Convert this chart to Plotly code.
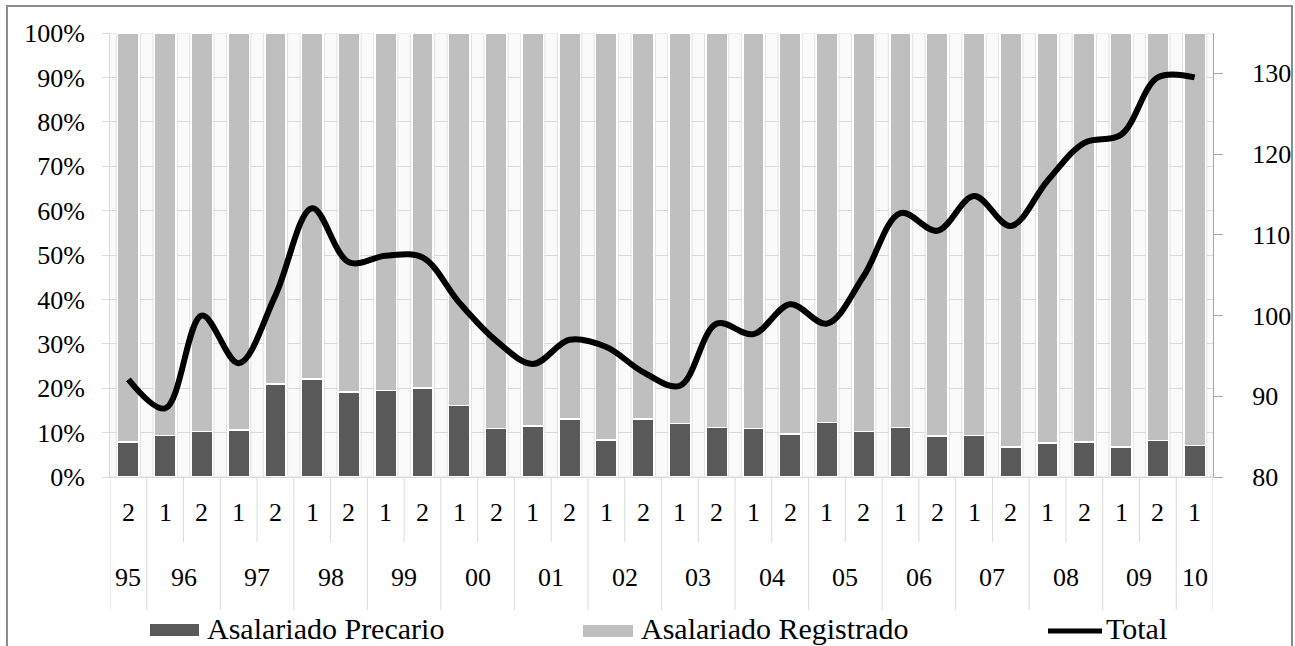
import plotly.graph_objects as go

# ---------------- data ----------------
semesters = ["2", "1", "2", "1", "2", "1", "2", "1", "2", "1",
             "2", "1", "2", "1", "2", "1", "2", "1", "2", "1",
             "2", "1", "2", "1", "2", "1", "2", "1", "2", "1"]
bar_years = ["95", "96", "96", "97", "97", "98", "98", "99", "99", "00",
             "00", "01", "01", "02", "02", "03", "03", "04", "04", "05",
             "05", "06", "06", "07", "07", "08", "08", "09", "09", "10"]
precario = [7.9, 9.4, 10.3, 10.6, 20.9, 22.1, 19.2, 19.5, 20.0, 16.1,
            10.9, 11.5, 13.1, 8.3, 13.1, 12.0, 11.1, 10.9, 9.7, 12.3,
            10.3, 11.1, 9.2, 9.4, 6.8, 7.7, 7.9, 6.8, 8.2, 7.1]
registrado = [92.1, 90.6, 89.7, 89.4, 79.1, 77.9, 80.8, 80.5, 80.0, 83.9,
              89.1, 88.5, 86.9, 91.7, 86.9, 88.0, 88.9, 89.1, 90.3, 87.7,
              89.7, 88.9, 90.8, 90.6, 93.2, 92.3, 92.1, 93.2, 91.8, 92.9]
total = [92.1, 88.5, 100.0, 94.1, 102.5, 113.3, 106.6, 107.4, 107.2, 101.6,
         96.9, 94.0, 97.0, 96.1, 93.0, 91.3, 99.0, 97.7, 101.4, 99.0,
         104.9, 112.7, 110.5, 114.8, 111.1, 116.7, 121.4, 122.4, 129.5, 129.5]
left_ticks = [0, 10, 20, 30, 40, 50, 60, 70, 80, 90, 100]
left_labels = ["0%", "10%", "20%", "30%", "40%", "50%", "60%", "70%", "80%", "90%", "100%"]
right_ticks = [80, 90, 100, 110, 120, 130]

# ---------------- layout constants ----------------
W, H = 1295, 646
L, R, T, B = 110, 82, 33, 169
PW, PH = W - L - R, H - T - B
FONT = "Liberation Serif"
DARK, LIGHT = "#595959", "#bfbfbf"
GRID = "#d9d9d9"

def px_x(p):
    return (p - L) / PW

def px_y(p):
    return (H - B - p) / PH

n = len(semesters)
xs = list(range(n))

fig = go.Figure()
fig.add_trace(go.Bar(x=xs, y=precario, name="Asalariado Precario",
                     marker=dict(color=DARK, line=dict(color="white", width=1.5)),
                     width=0.58, showlegend=False))
fig.add_trace(go.Bar(x=xs, y=registrado, name="Asalariado Registrado",
                     marker=dict(color=LIGHT, line=dict(color="white", width=1.5)),
                     width=0.58, showlegend=False))
fig.add_trace(go.Scatter(x=xs, y=total, name="Total", yaxis="y2", mode="lines",
                         line=dict(color="black", width=6, shape="spline", smoothing=1.0),
                         showlegend=False))

shapes = []
annotations = []

# light stripes between bars
for i in range(n + 1):
    b = i - 0.5
    shapes.append(dict(type="rect", xref="x", yref="y", x0=b - 0.17, x1=b + 0.17,
                       y0=0, y1=100, fillcolor="#fafafa",
                       line=dict(color="#e2e2e2", width=1), layer="below"))

# category labels
for i in range(n):
    annotations.append(dict(x=i, y=px_y(512), xref="x", yref="paper", text=semesters[i],
                            showarrow=False, font=dict(family=FONT, size=26, color="black"),
                            xanchor="center", yanchor="middle"))
# year groups
groups = []
for i, yv in enumerate(bar_years):
    if groups and groups[-1][0] == yv:
        groups[-1][1].append(i)
    else:
        groups.append([yv, [i]])
for yv, idx in groups:
    cx = sum(idx) / len(idx)
    annotations.append(dict(x=cx, y=px_y(577), xref="x", yref="paper", text=yv,
                            showarrow=False, font=dict(family=FONT, size=26, color="black"),
                            xanchor="center", yanchor="middle"))

# dividers
for i in range(n + 1):
    b = i - 0.5
    if i == 0 or i == n or bar_years[i] != bar_years[i - 1]:
        y1 = px_y(610)
    else:
        y1 = px_y(542)
    shapes.append(dict(type="line", xref="x", yref="paper", x0=b, x1=b, y0=0, y1=y1,
                       line=dict(color=GRID, width=1)))

# outer frame
shapes.append(dict(type="rect", xref="paper", yref="paper",
                   x0=px_x(7), x1=px_x(1292), y0=px_y(660), y1=px_y(6),
                   line=dict(color="#8c8c8c", width=2), fillcolor="rgba(0,0,0,0)"))

# custom legend
shapes.append(dict(type="rect", xref="paper", yref="paper",
                   x0=px_x(150), x1=px_x(199), y0=px_y(636), y1=px_y(624),
                   fillcolor=DARK, line=dict(width=0)))
shapes.append(dict(type="rect", xref="paper", yref="paper",
                   x0=px_x(583), x1=px_x(633), y0=px_y(637), y1=px_y(625),
                   fillcolor=LIGHT, line=dict(width=0)))
shapes.append(dict(type="line", xref="paper", yref="paper",
                   x0=px_x(1048), x1=px_x(1102), y0=px_y(631), y1=px_y(631),
                   line=dict(color="black", width=5)))
for txt, xp in [("Asalariado Precario", 205), ("Asalariado Registrado", 639), ("Total", 1104)]:
    annotations.append(dict(x=px_x(xp), y=px_y(628), xref="paper", yref="paper", text=txt,
                            showarrow=False, font=dict(family=FONT, size=30, color="black"),
                            xanchor="left", yanchor="middle"))

fig.update_layout(
    template="none",
    width=W, height=H,
    margin=dict(l=L, r=R, t=T, b=B, pad=0, autoexpand=False),
    paper_bgcolor="white", plot_bgcolor="white",
    barmode="stack", bargap=0.42,
    font=dict(family=FONT, size=26, color="black"),
    xaxis=dict(range=[-0.5, n - 0.5], showticklabels=False, showgrid=False, zeroline=False,
               showline=True, linecolor=GRID, linewidth=1, ticks="", automargin=False),
    yaxis=dict(range=[0, 100], tickvals=left_ticks, ticktext=left_labels, showgrid=True,
               gridcolor=GRID, gridwidth=1, zeroline=False, showline=True, linecolor=GRID,
               linewidth=1, ticks="outside", ticklen=7, tickcolor=GRID, tickwidth=1,
               ticklabelstandoff=12, automargin=False,
               tickfont=dict(family=FONT, size=26, color="black")),
    yaxis2=dict(range=[80, 135], tickvals=right_ticks, overlaying="y", side="right",
                showgrid=False, zeroline=False, showline=True, linecolor="#a6a6a6",
                linewidth=1, ticks="outside", ticklen=9, tickcolor="#a6a6a6", tickwidth=1,
                ticklabelstandoff=24, automargin=False,
                tickfont=dict(family=FONT, size=26, color="black")),
    shapes=shapes, annotations=annotations, showlegend=False,
)

fig.write_html("out.html", config={"displayModeBar": False},
               post_script="document.body.style.margin='0px';document.body.style.overflow='hidden';")
